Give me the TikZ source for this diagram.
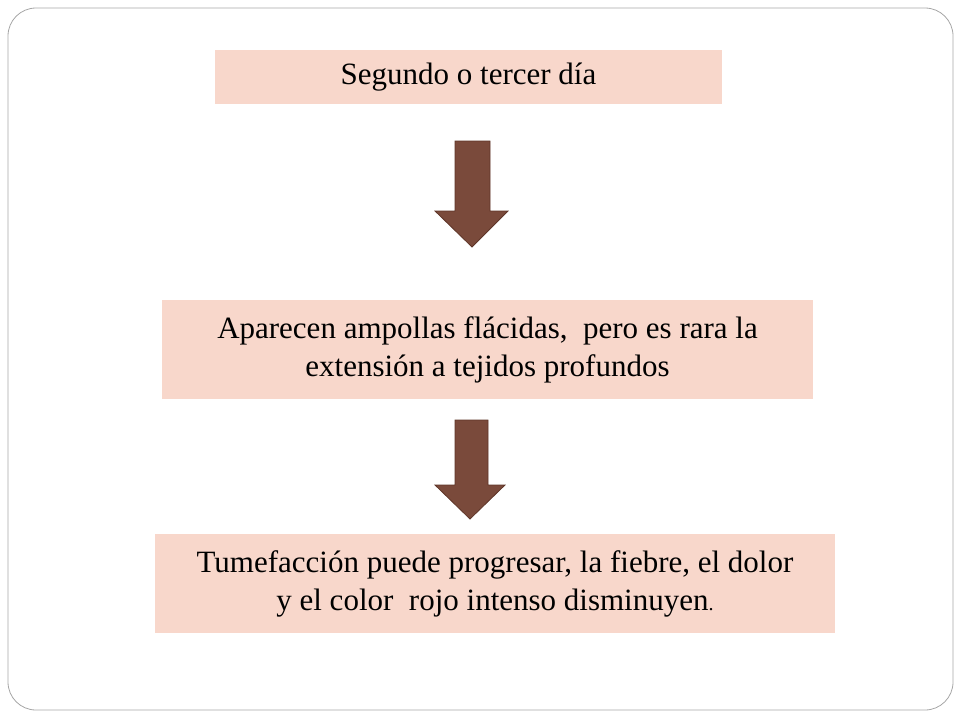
\documentclass[tikz,border=0pt]{standalone}
\usepackage{fontspec}
\setmainfont{Liberation Serif}
\definecolor{boxfill}{HTML}{F8D7CB}
\definecolor{arrowfill}{HTML}{7A4A3B}
\definecolor{arrowline}{HTML}{5E3528}
\begin{document}
\begin{tikzpicture}[x=1pt,y=-1pt,
  txtbox/.style={fill=boxfill,draw=none,align=center,font=\fontsize{31}{38}\selectfont,inner sep=0pt},
  bigarrow/.style={fill=arrowfill,draw=arrowline,line width=0.8pt}]
\useasboundingbox (0,0) rectangle (960,720);
\draw[gray!70,line width=0.8pt,rounded corners=28pt] (8,8) rectangle (953,710);
\node[txtbox,minimum width=507pt,minimum height=54pt] (b1) at (468.5,77) {Segundo o tercer día};
\node[txtbox,minimum width=651pt,minimum height=99pt] (b2) at (487.5,349.5) {Aparecen ampollas flácidas,\ \ pero es rara la\\extensión a tejidos profundos};
\node[txtbox,minimum width=680pt,minimum height=99pt] (b3) at (495,583.5) {Tumefacción puede progresar, la fiebre, el dolor\\y el color\ \ rojo intenso disminuyen{\fontsize{20}{20}\selectfont.}};
\draw[bigarrow] (455,141) -- (490,141) -- (490,211) -- (508,211) -- (472,247) -- (435,211) -- (455,211) -- cycle;
\draw[bigarrow] (455,420) -- (488,420) -- (488,485) -- (505,485) -- (470,519) -- (435,485) -- (455,485) -- cycle;
\end{tikzpicture}
\end{document}
